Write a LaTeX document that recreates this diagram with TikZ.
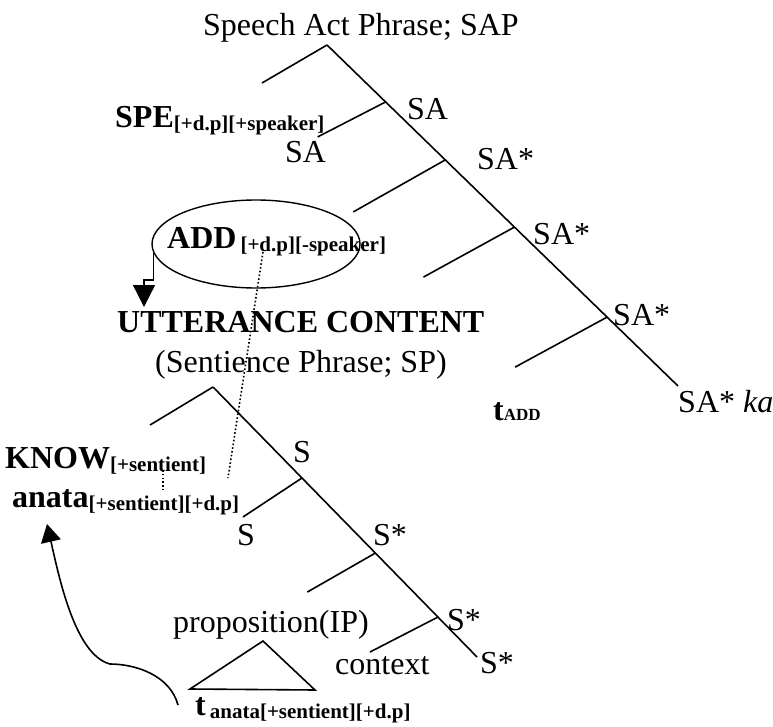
\documentclass[tikz,border=0pt]{standalone}
\usepackage{fontspec}
\setmainfont{Liberation Serif}
\usetikzlibrary{arrows.meta,shapes.geometric,calc}
\newcommand\sbx[1]{\raisebox{-3pt}{\fontsize{21}{21}\selectfont\bfseries #1}}
\begin{document}
\begin{tikzpicture}[x=1pt,y=-1pt,font=\fontsize{32}{38}\selectfont,
	lbl/.style={inner sep=0pt,anchor=base west},
	br/.style={line width=1.6pt},
	dots/.style={line width=1.6pt,dash pattern=on 1.6pt off 2.2pt}]
		 \useasboundingbox (0,0) rectangle (773,727);
		 \node[lbl] (title) at (203,36) {Speech Act Phrase; SAP};
		 \coordinate (r1) at (327,45); \coordinate (e1) at (678,386); \coordinate (b0) at (262,83);
		 \draw[br] (r1) -- (e1); \draw[br] (r1) -- (b0);
		 \foreach \t/\dx/\dy [count=\i] in {.167/-68/35,.337/-92/52,.534/-91/50,.798/-92/50}
		 	{\coordinate (j\i) at ($(r1)!\t!(e1)$); \coordinate (b\i) at ($(j\i)+(\dx,\dy)$); \draw[br] (j\i) -- (b\i);}
		 \node[lbl] (spe) at (115,128) {\textbf{SPE}\sbx{[+d.p][+speaker]}};
		 \node[lbl] (sa1) at (407,120) {SA}; \node[lbl] (sa2) at (285,163) {SA};
		 \node[lbl] (sas1) at (477,170) {SA*}; \node[lbl] (sas2) at (533,245) {SA*};
		 \node[lbl] (sas3) at (613,325) {SA*}; \node[lbl] (saka) at (678,412) {SA* \textit{ka}};
		 \node[lbl] (tadd) at (493,420) {\textbf{t}{\fontsize{17}{17}\selectfont\bfseries ADD}};
		 \node[draw,ellipse,line width=1.4pt,minimum width=208pt,minimum height=88pt] (add) at (256,244) {};
		 \node[lbl] (addt) at (167,248) {\textbf{ADD}\hspace{4pt}\sbx{[+d.p][-speaker]}};
		 \coordinate (tipa) at (144,307);
		 \draw[line width=1.3pt,-{Triangle[length=22pt,width=22pt]}] (add.185) -- ++(0,27) -| (tipa);
		 \node[lbl] (utt) at (117,332) {\textbf{UTTERANCE CONTENT}};
		 \node[lbl] (sp) at (155,372) {(Sentience Phrase; SP)};
		 \coordinate (r2) at (213,387); \coordinate (e2) at (477,657); \coordinate (b5) at (150,425);
		 \draw[br] (r2) -- (e2); \draw[br] (r2) -- (b5);
		 \foreach \t/\dx/\dy [count=\i from 6] in {.337/-59/39,.615/-68/39,.852/-68/35}
		 	{\coordinate (j\i) at ($(r2)!\t!(e2)$); \coordinate (b\i) at ($(j\i)+(\dx,\dy)$); \draw[br] (j\i) -- (b\i);}
		 \node[lbl] (know) at (5,468) {\textbf{KNOW}\sbx{[+sentient]}};
		 \node[lbl] (anata) at (12,507) {\textbf{anata}\sbx{[+sentient][+d.p]}};
		 \coordinate (d1) at (263,252); \coordinate (d2) at (228,478); \coordinate (d3) at (163,470); \coordinate (d4) at (163,490);
		 \draw[dots] (d1) -- (d2); \draw[dots] (d3) -- (d4);
		 \node[lbl] (s1) at (293,462) {S}; \node[lbl] (s2) at (237,545) {S};
		 \node[lbl] (ss1) at (373,545) {S*}; \node[lbl] (ss2) at (447,630) {S*}; \node[lbl] (ss3) at (480,673) {S*};
		 \node[lbl] (prop) at (173,632) {proposition(IP)}; \node[lbl] (ctx) at (335,674) {context};
		 \coordinate (ta) at (263,641); \coordinate (tl) at (190,689); \coordinate (tr) at (315,690);
		 \draw[br,line join=miter] (ta) -- (tl) -- (tr) -- cycle;
		 \node[lbl] (tana) at (195,715) {\textbf{t}\hspace{4pt}\sbx{anata[+sentient][+d.p]}};
		 \coordinate (cs) at (178,705); \coordinate (cm) at (110,664); \coordinate (tipb) at (47,524);
		 \draw[line width=1.6pt,-{Triangle[length=18pt,width=20pt]}] (cs) .. controls (170,675) and (135,664) .. (cm) .. controls (75,655) and (59,577) .. (tipb);
\end{tikzpicture}
\end{document}
